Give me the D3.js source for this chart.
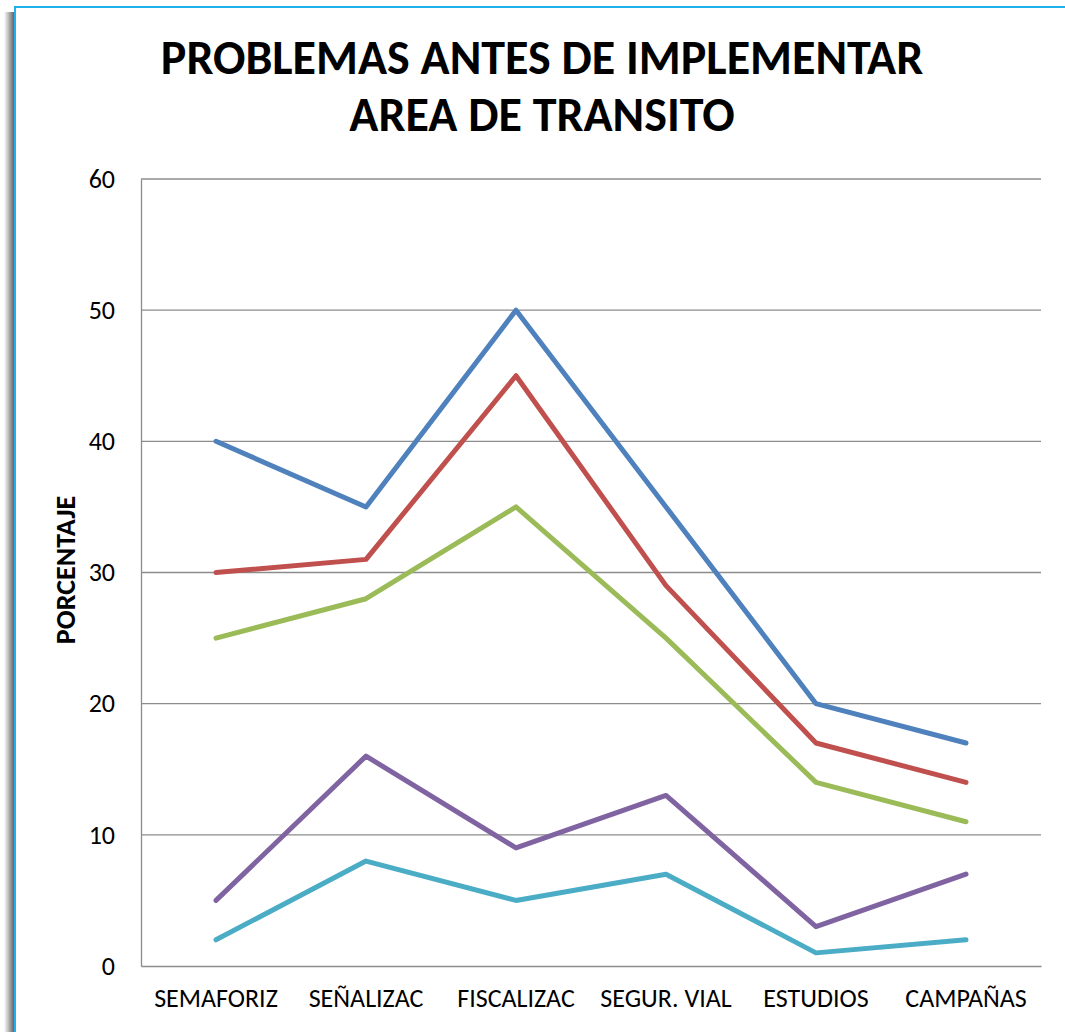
<!DOCTYPE html>
<html>
<head>
<meta charset="utf-8">
<script src="https://cdn.jsdelivr.net/npm/d3@7"></script>
<style>
  body { margin: 0; background: #fff; }
  svg { display: block; }
</style>
</head>
<body>
<svg id="chart" width="1065" height="1032"></svg>
<script>
// values
var categories = ["SEMAFORIZ", "SEÑALIZAC", "FISCALIZAC", "SEGUR. VIAL", "ESTUDIOS", "CAMPAÑAS"];
var serie1 = [40, 35, 50, 35, 20, 17];
var serie2 = [30, 31, 45, 29, 17, 14];
var serie3 = [25, 28, 35, 25, 14, 11];
var serie4 = [5, 16, 9, 13, 3, 7];
var serie5 = [2, 8, 5, 7, 1, 2];
var yTicks = [0, 10, 20, 30, 40, 50, 60];
var titleLines = ["PROBLEMAS ANTES DE IMPLEMENTAR", "AREA DE TRANSITO"];
var yTitle = "PORCENTAJE";

var series = [
  {values: serie1, color: "#4f81bd"},
  {values: serie2, color: "#c0504d"},
  {values: serie3, color: "#9bbb59"},
  {values: serie4, color: "#8064a2"},
  {values: serie5, color: "#4bacc6"}
];

var font = "Carlito, Calibri, 'Open Sans', sans-serif";
var svg = d3.select("#chart");

// frame with soft shadow on the left
var defs = svg.append("defs");
var grad = defs.append("linearGradient").attr("id", "shadow");
grad.append("stop").attr("offset", "0%").attr("stop-color", "#fff");
grad.append("stop").attr("offset", "100%").attr("stop-color", "#555");
svg.append("rect")
  .attr("x", 4).attr("y", 12).attr("width", 11).attr("height", 1032)
  .attr("fill", "url(#shadow)");
svg.append("rect")
  .attr("x", 15).attr("y", 7).attr("width", 1100).attr("height", 1100)
  .attr("fill", "#fff").attr("stroke", "#1fb1ec").attr("stroke-width", 2);

var margin = {top: 179, left: 141};

var g = svg.append("g").attr("transform", "translate(" + margin.left + "," + margin.top + ")");

var x = d3.scaleBand().domain(categories).range([0, 900]);
var y = d3.scaleLinear().domain([0, 60]).range([787, 0]);

// gridlines
g.append("g")
  .selectAll("line")
  .data(yTicks.slice(1))
  .join("line")
  .attr("x1", 0).attr("x2", 900)
  .attr("y1", function(d) { return y(d); })
  .attr("y2", function(d) { return y(d); })
  .attr("stroke", "#8c8c8c").attr("stroke-width", 1.3);

// y axis
var yAxis = g.append("g")
  .call(d3.axisLeft(y).tickValues(yTicks).tickSize(0).tickPadding(26));
yAxis.select(".domain").attr("stroke", "#8c8c8c").attr("stroke-width", 1.3);
yAxis.selectAll("text")
  .attr("font-family", font).attr("font-size", 26).attr("fill", "#000");

// x axis
var xAxis = g.append("g")
  .attr("transform", "translate(0," + y(0) + ")")
  .call(d3.axisBottom(x).tickSize(0).tickPadding(23));
xAxis.select(".domain").attr("stroke", "#8c8c8c").attr("stroke-width", 1.3);
xAxis.selectAll("text")
  .attr("font-family", font).attr("font-size", 26).attr("fill", "#000");

// lines
var line = d3.line()
  .x(function(d, i) { return x(categories[i]) + x.bandwidth() / 2; })
  .y(function(d) { return y(d); });

g.selectAll(".serie")
  .data(series)
  .join("path")
  .attr("class", "serie")
  .attr("d", function(d) { return line(d.values); })
  .attr("fill", "none")
  .attr("stroke", function(d) { return d.color; })
  .attr("stroke-width", 5)
  .attr("stroke-linecap", "round")
  .attr("stroke-linejoin", "round");

// title
svg.append("g")
  .selectAll("text")
  .data(titleLines)
  .join("text")
  .attr("x", 542)
  .attr("y", function(d, i) { return 74 + i * 57; })
  .attr("text-anchor", "middle")
  .attr("font-family", font)
  .attr("font-weight", "bold")
  .attr("font-size", 48)
  .attr("fill", "#000")
  .text(function(d) { return d; });

// y title
svg.append("text")
  .attr("transform", "translate(75,570) rotate(-90)")
  .attr("text-anchor", "middle")
  .attr("font-family", font)
  .attr("font-weight", "bold")
  .attr("font-size", 28)
  .attr("fill", "#000")
  .text(yTitle);
</script>
</body>
</html>
